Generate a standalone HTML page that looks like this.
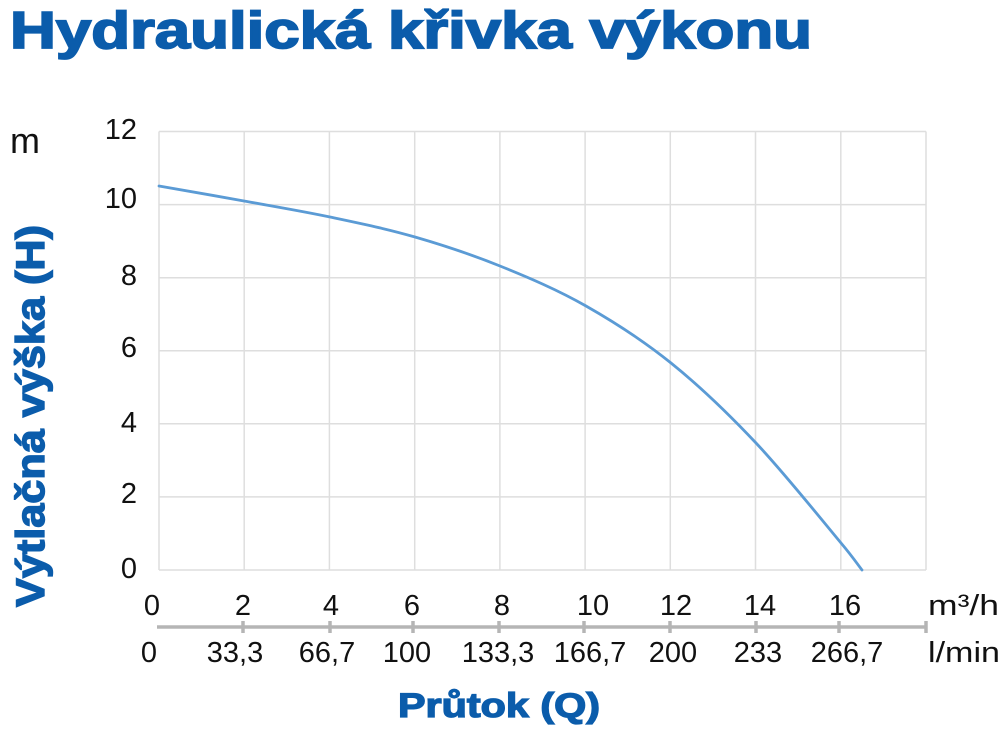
<!DOCTYPE html>
<html>
<head>
<meta charset="utf-8">
<style>
  html,body{margin:0;padding:0;background:#fff;}
  svg{display:block;}
  .tk{font-family:"Liberation Sans",Arial,sans-serif;font-size:29px;fill:#111;}
  .bl{font-family:"Liberation Sans",Arial,sans-serif;font-weight:bold;fill:#0b5cab;stroke:#0b5cab;}
</style>
</head>
<body>
<svg width="1000" height="731" viewBox="0 0 1000 731" xmlns="http://www.w3.org/2000/svg">
  <rect width="1000" height="731" fill="#ffffff"/>
  <!-- Title -->
  <text class="bl" x="10" y="48" style="font-size:52px;stroke-width:1.8px" textLength="802" lengthAdjust="spacingAndGlyphs">Hydraulická křivka výkonu</text>

  <!-- Grid -->
  <g stroke="#dedede" stroke-width="1.5" fill="none">
    <line x1="159" y1="131.5" x2="926" y2="131.5"/>
    <line x1="159" y1="204.6" x2="926" y2="204.6"/>
    <line x1="159" y1="277.7" x2="926" y2="277.7"/>
    <line x1="159" y1="350.7" x2="926" y2="350.7"/>
    <line x1="159" y1="423.8" x2="926" y2="423.8"/>
    <line x1="159" y1="496.9" x2="926" y2="496.9"/>
    <line x1="159" y1="570" x2="926" y2="570"/>
    <line x1="159" y1="131.5" x2="159" y2="570"/>
    <line x1="244.2" y1="131.5" x2="244.2" y2="570"/>
    <line x1="329.4" y1="131.5" x2="329.4" y2="570"/>
    <line x1="414.7" y1="131.5" x2="414.7" y2="570"/>
    <line x1="499.9" y1="131.5" x2="499.9" y2="570"/>
    <line x1="585.1" y1="131.5" x2="585.1" y2="570"/>
    <line x1="670.3" y1="131.5" x2="670.3" y2="570"/>
    <line x1="755.5" y1="131.5" x2="755.5" y2="570"/>
    <line x1="840.8" y1="131.5" x2="840.8" y2="570"/>
    <line x1="926" y1="131.5" x2="926" y2="570"/>
  </g>

  <!-- Curve -->
  <path d="M159,186 C173.2,188.5 215.5,195.8 244,201 C272.5,206.2 301.5,211 330,217 C358.5,223 386.7,228.8 415,237 C443.3,245.2 471.5,254.5 500,266 C528.5,277.5 557.5,289.8 586,306 C614.5,322.2 642.7,340.2 671,363 C699.3,385.8 727.7,413 756,443 C784.3,473 823.3,521.8 841,543 C852,556 858.5,565.5 862,570"
        fill="none" stroke="#5b9bd5" stroke-width="2.8" stroke-linecap="round"/>

  <!-- Y unit -->
  <text class="tk" x="10" y="153" style="font-size:36px">m</text>

  <!-- Y tick labels -->
  <g class="tk" text-anchor="end">
    <text x="137" y="139">12</text>
    <text x="137" y="208">10</text>
    <text x="137" y="285">8</text>
    <text x="137" y="357">6</text>
    <text x="137" y="432">4</text>
    <text x="137" y="503">2</text>
    <text x="137" y="578">0</text>
  </g>

  <!-- Y axis title -->
  <text class="bl" style="font-size:40px;stroke-width:1.4px" text-anchor="middle" transform="translate(44,416) rotate(-90)" textLength="382" lengthAdjust="spacingAndGlyphs">Výtlačná výška (H)</text>

  <!-- X axis line with ticks -->
  <g stroke="#b5b5b5" stroke-width="3.5" fill="none">
    <line x1="157" y1="627" x2="927" y2="627"/>
    <line x1="243" y1="621" x2="243" y2="633"/>
    <line x1="330" y1="621" x2="330" y2="633"/>
    <line x1="413" y1="621" x2="413" y2="633"/>
    <line x1="499" y1="621" x2="499" y2="633"/>
    <line x1="584" y1="621" x2="584" y2="633"/>
    <line x1="670" y1="621" x2="670" y2="633"/>
    <line x1="756" y1="621" x2="756" y2="633"/>
    <line x1="839" y1="621" x2="839" y2="633"/>
    <line x1="926" y1="621" x2="926" y2="633"/>
  </g>

  <!-- X top row (m3/h) -->
  <g class="tk" text-anchor="middle">
    <text x="152" y="615">0</text>
    <text x="243" y="615">2</text>
    <text x="331" y="615">4</text>
    <text x="412" y="615">6</text>
    <text x="502" y="615">8</text>
    <text x="593" y="615">10</text>
    <text x="676" y="615">12</text>
    <text x="760" y="615">14</text>
    <text x="845" y="615">16</text>
  </g>
  <text class="tk" x="928" y="615" textLength="71" lengthAdjust="spacingAndGlyphs">m³/h</text>

  <!-- X bottom row (l/min) -->
  <g class="tk" text-anchor="middle">
    <text x="149" y="662">0</text>
    <text x="235" y="662">33,3</text>
    <text x="327" y="662">66,7</text>
    <text x="407" y="662">100</text>
    <text x="498" y="662">133,3</text>
    <text x="590" y="662">166,7</text>
    <text x="673" y="662">200</text>
    <text x="758" y="662">233</text>
    <text x="847" y="662">266,7</text>
  </g>
  <text class="tk" x="928" y="662" textLength="72" lengthAdjust="spacingAndGlyphs">l/min</text>

  <!-- X axis title -->
  <text class="bl" x="398" y="717" style="font-size:34px;stroke-width:1.3px" textLength="202" lengthAdjust="spacingAndGlyphs">Průtok (Q)</text>
</svg>
</body>
</html>
